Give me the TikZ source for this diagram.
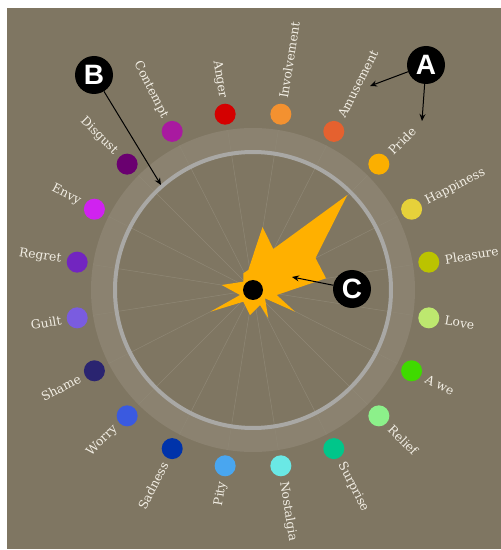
\documentclass[tikz,border=0pt]{standalone}
\usepackage{fontspec}
\setmainfont{DejaVu Serif}
\newfontfamily\badgefont{Liberation Sans}
\usetikzlibrary{arrows.meta}
\definecolor{bgbrown}{HTML}{7F7662}
\definecolor{bandbrown}{HTML}{8B8270}
\definecolor{ringgray}{HTML}{A9A8A5}
\definecolor{spokegray}{HTML}{8F8775}
\definecolor{labeltxt}{HTML}{F2EEE4}
\definecolor{gold}{HTML}{FFB000}
\definecolor{canger}{HTML}{D40000}
\definecolor{cinvolve}{HTML}{F39130}
\definecolor{camuse}{HTML}{E5612F}
\definecolor{cpride}{HTML}{FBAF00}
\definecolor{chappy}{HTML}{E6D13A}
\definecolor{cpleasure}{HTML}{BBC300}
\definecolor{clove}{HTML}{BDE86F}
\definecolor{cawe}{HTML}{3FDA00}
\definecolor{crelief}{HTML}{8CF08A}
\definecolor{csurprise}{HTML}{00C68A}
\definecolor{cnostalgia}{HTML}{6AE8E5}
\definecolor{cpity}{HTML}{49A6F0}
\definecolor{csadness}{HTML}{0033AA}
\definecolor{cworry}{HTML}{3A5AE0}
\definecolor{cshame}{HTML}{2A2470}
\definecolor{cguilt}{HTML}{7A5CE0}
\definecolor{cregret}{HTML}{7225C0}
\definecolor{cenvy}{HTML}{D022F0}
\definecolor{cdisgust}{HTML}{6A0070}
\definecolor{ccontempt}{HTML}{A91AA0}
\tikzset{
  emo/.style={circle,fill=#1,minimum size=21pt,inner sep=0pt},
  emolbl/.style={font=\fontsize{12.3}{14}\selectfont,text=labeltxt,inner sep=0pt},
  spoke/.style={draw=spokegray,line width=0.5pt},
  ring/.style={draw=ringgray,line width=4pt},
  badge/.style={circle,fill=black,minimum size=38pt,inner sep=0pt,text=white,
                font=\badgefont\bfseries\fontsize{28}{28}\selectfont},
  callout/.style={-{Stealth[length=7pt,width=6pt]},line width=1pt,color=black},
}
\begin{document}
\begin{tikzpicture}[x=1pt,y=1pt]
  \useasboundingbox (0,0) rectangle (501,550);
  \fill[white] (0,0) rectangle (501,550);
  \fill[bgbrown] (7,1) rectangle (501,542);
  \coordinate (c) at (253,260);

  % wheel
  \fill[bandbrown,even odd rule] (c) circle[radius=162] (c) circle[radius=137];
  \begin{scope}[shift={(c)}]
    \foreach \i in {0,...,19}
      \draw[spoke] (0,0) -- ({99-18*\i}:162);
  \end{scope}
  \draw[ring] (c) circle[radius=138];

  % response shape
  \fill[gold,shift={(c)}] (94.3,95) -- (62.5,32) -- (73,11.7) -- (23.7,-5)
    -- (42,-21.7) -- (12,-8.3) -- (15.3,-28.3) -- (7,-15) -- (-3,-25)
    -- (-9.7,-11.7) -- (-42.5,-21.7) -- (-13,-5) -- (-31.3,5) -- (-9.7,8.3)
    -- (-9.7,16.7) -- (-4.7,20) -- (9.5,63) -- (20.3,41) -- cycle;
  \node[circle,fill=black,minimum size=20pt,inner sep=0pt] (hub) at (c) {};

  % emotions
  \begin{scope}[shift={(c)}]
    \foreach \i/\lbl/\col in {
      1/Involvement/cinvolve,
      2/Amusement/camuse,
      3/Pride/cpride,
      4/Happiness/chappy,
      5/Pleasure/cpleasure,
      6/Love/clove,
      7/A we/cawe,
      8/Relief/crelief,
      9/Surprise/csurprise,
      10/Nostalgia/cnostalgia}{
      \pgfmathsetmacro\ang{99-18*\i}
      \node[emo=\col] (d\i) at (\ang:178) {};
      \node[emolbl,anchor=west,rotate=\ang] (l\i) at (\ang:194) {\lbl};
    }
    \foreach \i/\lbl/\col in {
      0/Anger/canger,
      11/Pity/cpity,
      12/Sadness/csadness,
      13/Worry/cworry,
      14/Shame/cshame,
      15/Guilt/cguilt,
      16/Regret/cregret,
      17/Envy/cenvy,
      18/Disgust/cdisgust,
      19/Contempt/ccontempt}{
      \pgfmathsetmacro\ang{99-18*\i}
      \node[emo=\col] (d\i) at (\ang:178) {};
      \node[emolbl,anchor=east,rotate=\ang+180] (l\i) at (\ang:194) {\lbl};
    }
  \end{scope}

  % callouts
  \node[badge] (A) at (426,485) {A};
  \node[badge] (B) at (94,475) {B};
  \node[badge] (C) at (352,261) {C};
  \coordinate (a1) at (370,464);
  \coordinate (a2) at (422,429);
  \coordinate (b1) at (161,365);
  \coordinate (c1) at (292,273);
  \draw[callout] (A) -- (a1);
  \draw[callout] (A) -- (a2);
  \draw[callout] (B) -- (b1);
  \draw[callout] (C) -- (c1);
\end{tikzpicture}
\end{document}
